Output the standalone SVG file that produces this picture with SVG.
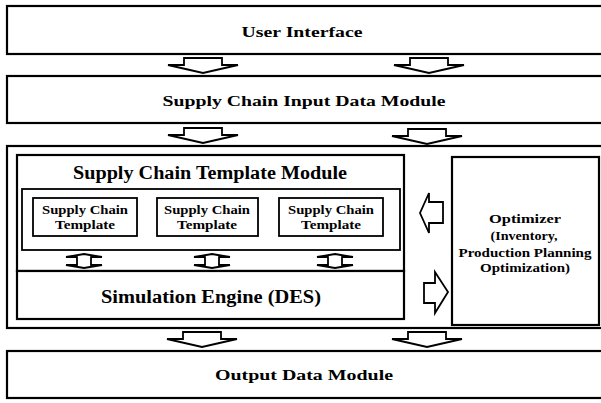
<svg xmlns="http://www.w3.org/2000/svg" width="601" height="403" viewBox="0 0 601 403">
  <style>
    .box { fill: #fff; stroke: #000; stroke-width: 2.2; }
    .thin { fill: #fff; stroke: #000; stroke-width: 1.8; }
    .line { fill: none; stroke: #000; stroke-width: 2; }
    .arrow { fill: #fff; stroke: #000; stroke-width: 1.8; stroke-linejoin: miter; }
    text { font-family: "Liberation Serif", "Times New Roman", serif; font-weight: bold; fill: #000; text-anchor: middle; }
    .t15 { font-size: 15px; }
    .t18 { font-size: 18px; }
    .t13 { font-size: 13px; }
  </style>
  <defs>
    <!-- flat block arrow pointing down, origin at top-centre of its stem -->
    <path id="down" d="M -19,0 H 19 V 7 H 35 L 0,15 L -35,7 H -19 Z"/>
    <!-- squat double-headed arrow (up and down), origin at its centre -->
    <path id="updown" d="M 0,-7 L 18,-4 H 7 V 4 H 18 L 0,7 L -18,4 H -7 V -4 H -18 Z"/>
  </defs>

  <rect width="601" height="403" fill="#fff"/>

  <g id="user-interface">
    <rect class="box" x="7" y="6" width="600" height="48"/>
    <text class="t15" x="302" y="37" textLength="121" lengthAdjust="spacingAndGlyphs">User Interface</text>
  </g>

  <g id="input-data-module">
    <rect class="box" x="7" y="76" width="600" height="47"/>
    <text class="t15" x="304" y="106" textLength="283" lengthAdjust="spacingAndGlyphs">Supply Chain Input Data Module</text>
  </g>

  <g id="core-frame">
    <rect class="box" x="7" y="146" width="600" height="182"/>
  </g>

  <g id="template-module">
    <rect class="box" x="17" y="155" width="387" height="116"/>
    <text class="t18" x="210" y="179" textLength="274" lengthAdjust="spacingAndGlyphs">Supply Chain Template Module</text>
    <rect class="thin" x="22" y="189" width="378" height="61"/>
  </g>

  <g id="template-1">
    <rect class="thin" x="33" y="198" width="104" height="38"/>
    <text class="t13" x="85" y="214" textLength="86" lengthAdjust="spacingAndGlyphs">Supply Chain</text>
    <text class="t13" x="85" y="229" textLength="60" lengthAdjust="spacingAndGlyphs">Template</text>
  </g>
  <g id="template-2">
    <rect class="thin" x="157" y="198" width="101" height="38"/>
    <text class="t13" x="207" y="214" textLength="86" lengthAdjust="spacingAndGlyphs">Supply Chain</text>
    <text class="t13" x="207" y="229" textLength="60" lengthAdjust="spacingAndGlyphs">Template</text>
  </g>
  <g id="template-3">
    <rect class="thin" x="279" y="198" width="104" height="38"/>
    <text class="t13" x="331" y="214" textLength="86" lengthAdjust="spacingAndGlyphs">Supply Chain</text>
    <text class="t13" x="331" y="229" textLength="60" lengthAdjust="spacingAndGlyphs">Template</text>
  </g>

  <g id="simulation-engine">
    <rect class="box" x="17" y="271" width="387" height="48"/>
    <text class="t18" x="211" y="303" textLength="220" lengthAdjust="spacingAndGlyphs">Simulation Engine (DES)</text>
  </g>

  <g id="optimizer">
    <rect class="box" x="452" y="157" width="147" height="168"/>
    <text class="t13" x="525" y="223" textLength="72" lengthAdjust="spacingAndGlyphs">Optimizer</text>
    <text class="t13" x="524" y="240" textLength="67" lengthAdjust="spacingAndGlyphs">(Inventory,</text>
    <text class="t13" x="525" y="257" textLength="133" lengthAdjust="spacingAndGlyphs">Production Planning</text>
    <text class="t13" x="525" y="272" textLength="90" lengthAdjust="spacingAndGlyphs">Optimization)</text>
  </g>

  <g id="output-data-module">
    <rect class="box" x="7" y="351" width="600" height="47"/>
    <text class="t15" x="304" y="380" textLength="178" lengthAdjust="spacingAndGlyphs">Output Data Module</text>
  </g>

  <g id="connectors">
    <use href="#down" class="arrow" x="203" y="58"/>
    <use href="#down" class="arrow" x="429" y="58"/>
    <use href="#down" class="arrow" x="203" y="128"/>
    <use href="#down" class="arrow" x="427" y="129"/>
    <use href="#down" class="arrow" x="202" y="332"/>
    <use href="#down" class="arrow" x="427" y="332"/>
    <use href="#updown" class="arrow" x="84" y="261"/>
    <use href="#updown" class="arrow" x="212" y="261"/>
    <use href="#updown" class="arrow" x="335" y="261"/>
    <!-- optimizer feeds back to the template module -->
    <path class="arrow" d="M 443,202 V 223 H 429 V 233 L 420,213 L 429,193 V 202 Z"/>
    <!-- simulation results go to the optimizer -->
    <path class="arrow" d="M 424,283 H 435 V 272 L 448,292 L 435,313 V 303 H 424 Z"/>
  </g>
</svg>
